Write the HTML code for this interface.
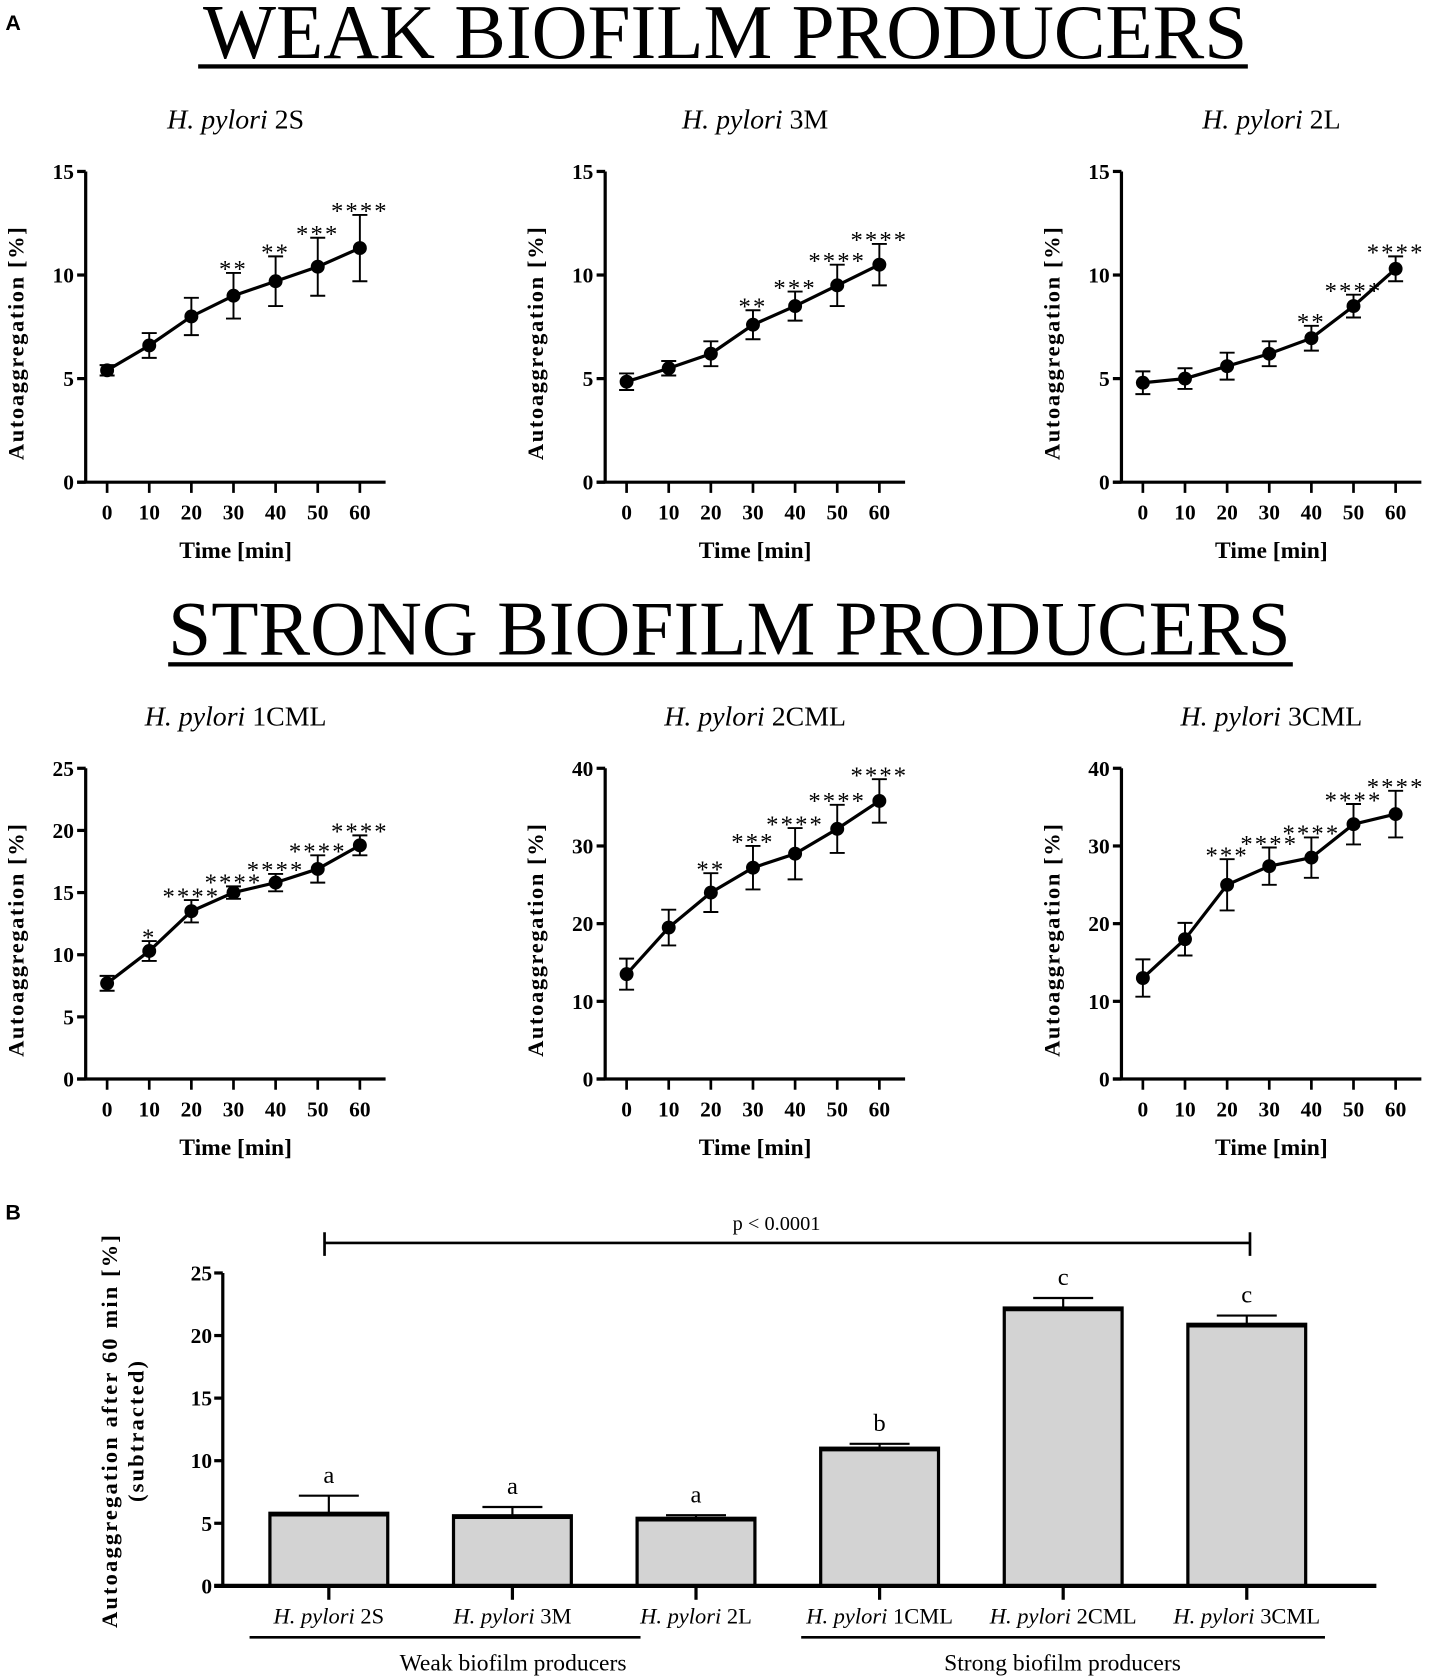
<!DOCTYPE html>
<html><head><meta charset="utf-8"><style>
html,body{margin:0;padding:0;background:#fff;}
svg{display:block;}
text{font-family:"Liberation Serif",serif;fill:#000;}
</style></head><body>
<svg id="fig" width="1431" height="1678" viewBox="0 0 1336 1566" preserveAspectRatio="none" xmlns="http://www.w3.org/2000/svg">
<text x="5" y="28" style="font-family:'Liberation Sans',sans-serif;font-weight:bold;font-size:20px">A</text>
<text x="677" y="54" text-anchor="middle" style="font-size:72px" textLength="975" lengthAdjust="spacingAndGlyphs">WEAK BIOFILM PRODUCERS</text>
<rect x="185" y="60" width="980" height="4" fill="#000"/>
<text x="681" y="611" text-anchor="middle" style="font-size:72px" textLength="1048" lengthAdjust="spacingAndGlyphs">STRONG BIOFILM PRODUCERS</text>
<rect x="157" y="618" width="1050" height="4" fill="#000"/>
<text x="5" y="1138" style="font-family:'Liberation Sans',sans-serif;font-weight:bold;font-size:20px">B</text>
<g id="lines"></g>
<g id="bars"></g>
</svg>
<script>
const NS="http://www.w3.org/2000/svg";
const times=[0,10,20,30,40,50,60];
const v2S=[5.4,6.6,8.0,9.0,9.7,10.4,11.3];
const e2S=[0.25,0.6,0.9,1.1,1.2,1.4,1.6];
const s2S=["","","","**","**","***","****"];
const v3M=[4.85,5.5,6.2,7.6,8.5,9.5,10.5];
const e3M=[0.4,0.35,0.6,0.7,0.7,1.0,1.0];
const s3M=["","","","**","***","****","****"];
const v2L=[4.8,5.0,5.6,6.2,6.95,8.5,10.3];
const e2L=[0.55,0.5,0.65,0.6,0.6,0.55,0.6];
const s2L=["","","","","**","****","****"];
const v1C=[7.7,10.3,13.5,15.0,15.8,16.9,18.8];
const e1C=[0.6,0.8,0.9,0.5,0.7,1.1,0.8];
const s1C=["","*","****","****","****","****","****"];
const v2C=[13.5,19.5,24,27.2,29,32.2,35.8];
const e2C=[2.0,2.3,2.5,2.8,3.3,3.1,2.8];
const s2C=["","","**","***","****","****","****"];
const v3C=[13,18,25,27.4,28.5,32.8,34.1];
const e3C=[2.4,2.1,3.3,2.4,2.6,2.6,3.0];
const s3C=["","","***","****","****","****","****"];
const ticks15=[0,5,10,15], ticks25=[0,5,10,15,20,25], ticks40=[0,10,20,30,40];

const barCats=["2S","3M","2L","1CML","2CML","3CML"];
const barVals=[5.8,5.6,5.4,11.0,22.2,20.9];
const barErr=[1.4,0.7,0.25,0.35,0.8,0.7];
const barLetters=["a","a","a","b","c","c"];
const barTicks=[0,5,10,15,20,25];

function el(tag,attrs,parent,txt){const e=document.createElementNS(NS,tag);for(const k in attrs)e.setAttribute(k,attrs[k]);if(txt!==undefined)e.textContent=txt;parent.appendChild(e);return e;}

const L=document.getElementById('lines');
function panel(ax,top,bot,ymax,ticks,vals,errs,stars,name,key){
  const g=el('g',{},L);
  
  
  const x0=ax+20, dx=39.33;
  const X=t=>x0+t/10*dx;
  const Y=v=>bot-(v/ymax)*(bot-top);
  const t=el('text',{x:ax+140,y:top-40,'text-anchor':'middle','font-size':26},g);
  
  
  el('tspan',{'font-style':'italic'},t,'H. pylori');
  el('tspan',{},t,' '+name);
  const ya=el('line',{x1:ax,y1:top,x2:ax,y2:bot,stroke:'#000','stroke-width':3},g);
  
  
  const xa=el('line',{x1:ax-8,y1:bot,x2:ax+280,y2:bot,stroke:'#000','stroke-width':3},g);
  
  
  ticks.forEach(v=>{
    el('line',{x1:ax-8,y1:Y(v),x2:ax,y2:Y(v),stroke:'#000','stroke-width':3},g);
    const tl=el('text',{x:ax-11,y:Y(v)+7,'text-anchor':'end','font-size':20,'font-weight':'bold'},g,String(v));
    
    
  });
  times.forEach(tt=>{
    el('line',{x1:X(tt),y1:bot,x2:X(tt),y2:bot+10,stroke:'#000','stroke-width':2.5},g);
    const tl=el('text',{x:X(tt),y:bot+35,'text-anchor':'middle','font-size':20,'font-weight':'bold'},g,String(tt));
    
    
  });
  const xt=el('text',{x:ax+140,y:bot+71,'text-anchor':'middle','font-size':22,'font-weight':'bold'},g,'Time [min]');
  
  
  const cy=(top+bot)/2+15;
  const yt=el('text',{x:0,y:0,'text-anchor':'middle','font-size':21,'font-weight':'bold','letter-spacing':'1.5',transform:`translate(${ax-58},${cy}) rotate(-90)`},g,'Autoaggregation [%]');
  
  
  const pts=vals.map((v,i)=>X(times[i])+','+Y(v)).join(' ');
  const pl=el('polyline',{points:pts,fill:'none',stroke:'#000','stroke-width':3},g);
  
  
  vals.forEach((v,i)=>{
    const x=X(times[i]);
    const eb=el('path',{d:`M${x},${Y(v-errs[i])}V${Y(v+errs[i])}M${x-7},${Y(v+errs[i])}H${x+7}M${x-7},${Y(v-errs[i])}H${x+7}`,stroke:'#000','stroke-width':1.8,fill:'none'},g);
    
    
    const c=el('circle',{cx:x,cy:Y(v),r:6.5,fill:'#000'},g);
    
    
    if(stars[i]){
      const s=el('text',{x:x,y:Y(v+errs[i])+4,'text-anchor':'middle','font-size':23,'letter-spacing':'2'},g,stars[i]);
      
      
    }
  });
}
panel(80,160,450,15,ticks15,v2S,e2S,s2S,'2S','2s');
panel(565,160,450,15,ticks15,v3M,e3M,s3M,'3M','3m');
panel(1047,160,450,15,ticks15,v2L,e2L,s2L,'2L','2l');
panel(80,717,1007,25,ticks25,v1C,e1C,s1C,'1CML','1cml');
panel(565,717,1007,40,ticks40,v2C,e2C,s2C,'2CML','2cml');
panel(1047,717,1007,40,ticks40,v3C,e3C,s3C,'3CML','3cml');

// Panel B
const B=document.getElementById('bars');
const bx=208, btop=1188, bbot=1480, bmax=25;
const BY=v=>bbot-(v/bmax)*(bbot-btop);
const BX=i=>307+i*171.4;
const yaxB=el('line',{x1:bx,y1:btop,x2:bx,y2:bbot,stroke:'#000','stroke-width':3},B);


barTicks.forEach(v=>{
  el('line',{x1:bx-8,y1:BY(v),x2:bx,y2:BY(v),stroke:'#000','stroke-width':3},B);
  const tl=el('text',{x:bx-10,y:BY(v)+7,'text-anchor':'end','font-size':20,'font-weight':'bold'},B,String(v));
  
  
});
const yl1=el('text',{x:0,y:0,'text-anchor':'middle','font-size':21,'font-weight':'bold','letter-spacing':'2',transform:'translate(109,1335) rotate(-90)'},B,'Autoaggregation after 60 min [%]');


const yl2=el('text',{x:0,y:0,'text-anchor':'middle','font-size':21,'font-weight':'bold','letter-spacing':'2',transform:'translate(134,1335) rotate(-90)'},B,'(subtracted)');


barVals.forEach((v,i)=>{
  const x=BX(i);
  const eb=el('path',{d:`M${x},${BY(v)}V${BY(v+barErr[i])}M${x-28},${BY(v+barErr[i])}H${x+28}`,stroke:'#000','stroke-width':2,fill:'none'},B);
  
  
  const r=el('rect',{x:x-55,y:BY(v),width:110,height:bbot-BY(v),fill:'#d3d3d3',stroke:'#000','stroke-width':3},B);
  
  
  el('line',{x1:x-55,y1:BY(v)+1,x2:x+55,y2:BY(v)+1,stroke:'#000','stroke-width':4},B);
  const lt=el('text',{x:x,y:BY(v+barErr[i])-12,'text-anchor':'middle','font-size':23},B,barLetters[i]);
  
  
  el('line',{x1:x,y1:bbot,x2:x,y2:bbot+13,stroke:'#000','stroke-width':3},B);
  const cl=el('text',{x:x,y:bbot+35,'text-anchor':'middle','font-size':21},B);
  
  
  el('tspan',{'font-style':'italic'},cl,'H. pylori');
  el('tspan',{},cl,' '+barCats[i]);
});
const xaxB=el('line',{x1:bx-8,y1:bbot,x2:1285,y2:bbot,stroke:'#000','stroke-width':4},B);


const g1=el('line',{x1:233,y1:1528,x2:598,y2:1528,stroke:'#000','stroke-width':2.5},B);


const g2=el('line',{x1:748,y1:1528,x2:1237,y2:1528,stroke:'#000','stroke-width':2.5},B);


const gl1=el('text',{x:479,y:1559,'text-anchor':'middle','font-size':22},B,'Weak biofilm producers');


const gl2=el('text',{x:992,y:1559,'text-anchor':'middle','font-size':22},B,'Strong biofilm producers');


const br=el('path',{d:'M303,1150V1172M303,1160H1167M1167,1150V1172',stroke:'#000','stroke-width':2.5,fill:'none'},B);


const pt=el('text',{x:725,y:1148,'text-anchor':'middle','font-size':19},B,'p < 0.0001');


</script>
</body></html>
